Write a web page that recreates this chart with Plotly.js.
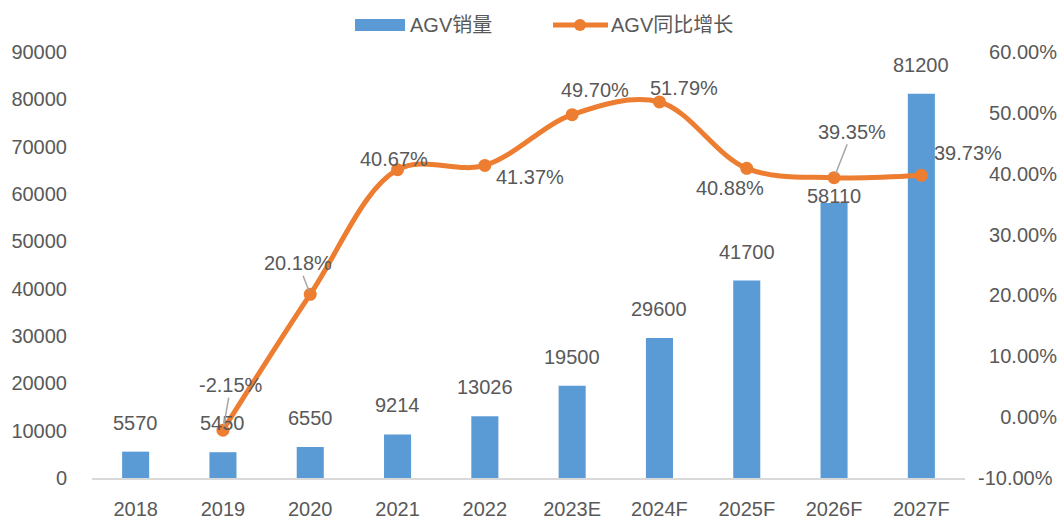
<!DOCTYPE html>
<html>
<head>
<meta charset="utf-8">
<script src="https://cdn.plot.ly/plotly-3.0.1.min.js"></script>
<style>html,body{margin:0;padding:0;background:#fff;}#chart{width:1064px;height:519px;}</style>
</head>
<body>
<div id="chart"></div>
<script>
var categories = ['2018','2019','2020','2021','2022','2023E','2024F','2025F','2026F','2027F'];
var sales = [5570, 5450, 6550, 9214, 13026, 19500, 29600, 41700, 58110, 81200];
var growth = [null, -0.0215, 0.2018, 0.4067, 0.4137, 0.4970, 0.5179, 0.4088, 0.3935, 0.3973];
var growthLabels = ['', '-2.15%', '20.18%', '40.67%', '41.37%', '49.70%', '51.79%', '40.88%', '39.35%', '39.73%'];
var leftTickVals = [0, 10000, 20000, 30000, 40000, 50000, 60000, 70000, 80000, 90000];
var leftTickText = ['0', '10000', '20000', '30000', '40000', '50000', '60000', '70000', '80000', '90000'];
var rightTickVals = [-0.10, 0.0, 0.10, 0.20, 0.30, 0.40, 0.50, 0.60];
var rightTickText = ['-10.00%', '0.00%', '10.00%', '20.00%', '30.00%', '40.00%', '50.00%', '60.00%'];
var salesName = 'AGV销量';
var growthName = 'AGV同比增长';

// label placement (pixel offsets) - styling only
var salesLabelShift = [29, 29, 29, 29, 29, 29, 29, 29, 7, 29];
var growthLabelShift = [null, [8, 45, true], [-12, 31, true], [-4, 11], [45, -12], [23, 25], [25, 14], [-17, -20], [18, 46, true], [47, 22]];

var txtColor = '#595959';
var barColor = '#5b9bd5';
var lineColor = '#ed7d31';
var fontFam = 'Arial, "Liberation Sans", "Noto Sans CJK SC", sans-serif';
var fs = 20;

var xIdx = categories.map(function (c, i) { return i; });

// right-align the right axis labels visually with figure spaces
var FS = '\u2007';
function padRight(t) {
  var maxLen = 0;
  rightTickText.forEach(function (s) { if (s.replace('-', '').length > maxLen) maxLen = s.replace('-', '').length; });
  if (t.charAt(0) === '-') return t;
  var n = maxLen - t.length + 1;
  var p = '';
  for (var k = 0; k < n; k++) p += FS;
  return p + t;
}
var rightTickShown = rightTickText.map(padRight);

var bars = {
  type: 'bar', name: salesName, x: xIdx, y: sales,
  marker: {color: barColor}, width: 0.31, yaxis: 'y', hoverinfo: 'y'
};
var line = {
  type: 'scatter', mode: 'lines+markers', name: growthName, x: xIdx, y: growth,
  yaxis: 'y2', line: {color: lineColor, width: 5, shape: 'spline', smoothing: 1},
  marker: {color: lineColor, size: 13}, connectgaps: false, cliponaxis: false
};

var annotations = [];
for (var i = 0; i < categories.length; i++) {
  annotations.push({
    x: xIdx[i], y: sales[i], xref: 'x', yref: 'y',
    text: String(sales[i]), showarrow: false, yshift: salesLabelShift[i],
    font: {size: fs, color: txtColor, family: fontFam}
  });
  var g = growthLabelShift[i];
  if (growth[i] === null || !g) continue;
  if (g[2]) {
    annotations.push({
      x: xIdx[i], y: growth[i], xref: 'x', yref: 'y2',
      text: growthLabels[i], showarrow: true, arrowhead: 0, arrowwidth: 1.5,
      arrowcolor: '#a6a6a6', ax: g[0], ay: -g[1], standoff: 4,
      font: {size: fs, color: txtColor, family: fontFam}
    });
  } else {
    annotations.push({
      x: xIdx[i], y: growth[i], xref: 'x', yref: 'y2',
      text: growthLabels[i], showarrow: false, xshift: g[0], yshift: g[1],
      font: {size: fs, color: txtColor, family: fontFam}
    });
  }
}

// custom legend (paper coordinates)
var mL = 92, mR = 99, mT = 52, mB = 41, W = 1064, H = 519;
var pw = W - mL - mR, ph = H - mT - mB;
function px(x) { return (x - mL) / pw; }
function py(y) { return (H - mB - y) / ph; }
var shapes = [
  {type: 'rect', xref: 'paper', yref: 'paper', x0: px(355), x1: px(405), y0: py(31), y1: py(19),
   fillcolor: barColor, line: {width: 0}},
  {type: 'line', xref: 'paper', yref: 'paper', x0: px(553), x1: px(608), y0: py(25), y1: py(25),
   line: {color: lineColor, width: 5}},
  {type: 'circle', xref: 'paper', yref: 'paper', x0: px(574), x1: px(586), y0: py(31), y1: py(19),
   fillcolor: lineColor, line: {width: 0}}
];
annotations.push({xref: 'paper', yref: 'paper', x: px(408), y: py(25), xanchor: 'left', yanchor: 'middle',
  text: salesName, showarrow: false, font: {size: fs, color: txtColor, family: fontFam}});
annotations.push({xref: 'paper', yref: 'paper', x: px(609), y: py(25), xanchor: 'left', yanchor: 'middle',
  text: growthName, showarrow: false, font: {size: fs, color: txtColor, family: fontFam}});

var layout = {
  width: W, height: H,
  margin: {l: mL, r: mR, t: mT, b: mB},
  paper_bgcolor: '#ffffff', plot_bgcolor: '#ffffff',
  font: {family: fontFam, size: fs, color: txtColor},
  showlegend: false,
  xaxis: {
    type: 'linear', range: [-0.5, 9.5], tickvals: xIdx, ticktext: categories,
    showgrid: false, zeroline: false,
    showline: true, linecolor: '#d9d9d9', linewidth: 2,
    ticks: '', ticklabelstandoff: 12,
    tickfont: {size: fs, color: txtColor, family: fontFam}
  },
  yaxis: {
    range: [0, 90000], tickvals: leftTickVals, ticktext: leftTickText,
    showgrid: false, zeroline: false,
    showline: false, ticks: '', ticklabelstandoff: 24,
    tickfont: {size: fs, color: txtColor, family: fontFam}
  },
  yaxis2: {
    overlaying: 'y', side: 'right', range: [-0.10, 0.60],
    tickvals: rightTickVals, ticktext: rightTickShown,
    showgrid: false, zeroline: false, showline: false,
    ticks: '', ticklabelstandoff: 12,
    tickfont: {size: fs, color: txtColor, family: fontFam}
  },
  shapes: shapes,
  annotations: annotations
};

Plotly.newPlot('chart', [bars, line], layout, {displayModeBar: false, staticPlot: true});
</script>
</body>
</html>
